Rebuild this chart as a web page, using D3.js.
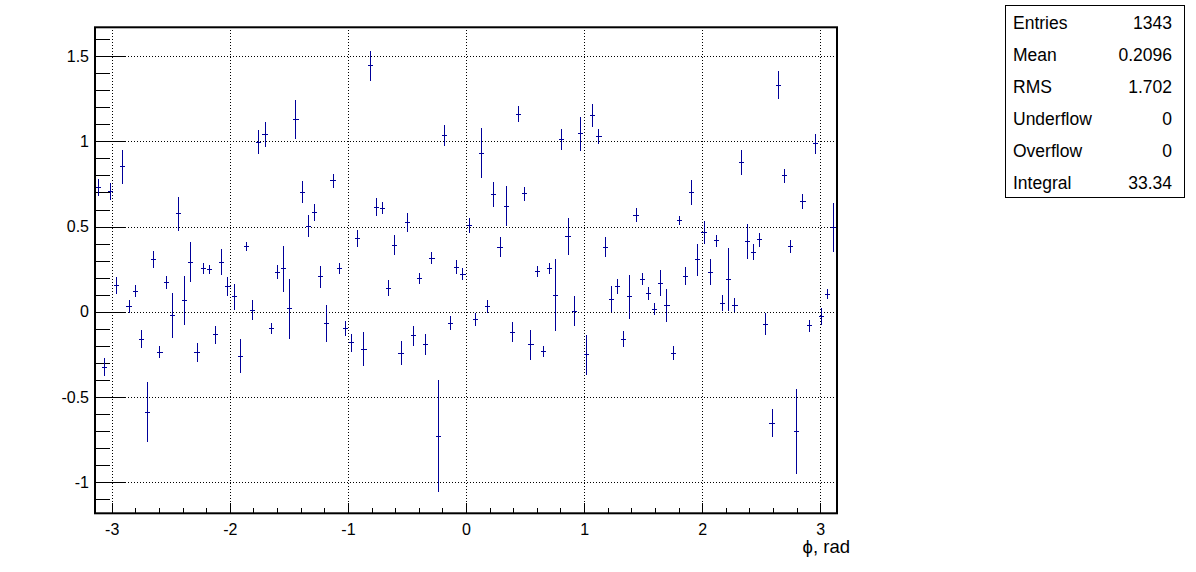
<!DOCTYPE html>
<html>
<head>
<meta charset="utf-8">
<script src="https://cdn.jsdelivr.net/npm/d3@7"></script>
<style>
  html, body { margin: 0; padding: 0; background: #ffffff; }
  svg { display: block; }
  text { font-family: "Liberation Sans", Arial, Helvetica, sans-serif; }
</style>
</head>
<body>
<div id="chart"></div>
<script>
// ---- Data ----
const xRange = [-Math.PI, Math.PI];   // histogram axis range
const nBins = 120;
const binValues = [
  0.731, -0.326, 0.706, 0.156, 0.850, 0.031, 0.121, -0.160, -0.588, 0.309,
  -0.237, 0.172, -0.023, 0.575, 0.065, 0.291, -0.240, 0.254, 0.250, -0.135,
  0.291, 0.150, 0.088, -0.260, 0.383, 0.010, 0.995, 1.042, -0.096, 0.233,
  0.252, 0.018, 1.126, 0.702, 0.502, 0.581, 0.205, -0.070, 0.768, 0.254,
  -0.098, -0.182, 0.428, -0.219, 1.443, 0.614, 0.608, 0.139, 0.391, -0.242,
  0.526, -0.141, 0.197, -0.194, 0.315, -0.729, 1.034, -0.066, 0.262, 0.221,
  0.506, -0.043, 0.930, 0.031, 0.686, 0.379, 0.620, -0.119, 1.159, 0.692,
  -0.194, 0.237, -0.231, 0.252, 0.098, 1.009, 0.440, 0.004, 1.044, -0.252,
  1.153, 1.030, 0.379, 0.074, 0.147, -0.160, 0.088, 0.567, 0.192, 0.108,
  0.016, 0.168, 0.035, -0.242, 0.536, 0.209, 0.700, 0.305, 0.465, 0.233,
  0.416, 0.051, 0.188, 0.039, 0.878, 0.410, 0.350, 0.422, -0.072, -0.653,
  1.329, 0.797, 0.383, -0.700, 0.647, -0.082, 0.985, -0.027, 0.104, 0.495
];
const binErrors = [
  0.051, 0.053, 0.049, 0.049, 0.099, 0.037, 0.035, 0.052, 0.174, 0.050,
  0.035, 0.037, 0.133, 0.099, 0.143, 0.119, 0.055, 0.033, 0.027, 0.052,
  0.078, 0.055, 0.078, 0.100, 0.028, 0.057, 0.071, 0.073, 0.032, 0.042,
  0.133, 0.177, 0.114, 0.065, 0.065, 0.050, 0.065, 0.110, 0.042, 0.034,
  0.046, 0.054, 0.050, 0.099, 0.088, 0.054, 0.034, 0.045, 0.058, 0.072,
  0.056, 0.057, 0.031, 0.062, 0.037, 0.330, 0.063, 0.039, 0.039, 0.036,
  0.045, 0.038, 0.147, 0.040, 0.074, 0.060, 0.119, 0.057, 0.047, 0.042,
  0.090, 0.034, 0.033, 0.033, 0.210, 0.061, 0.109, 0.090, 0.098, 0.116,
  0.068, 0.045, 0.059, 0.078, 0.043, 0.048, 0.129, 0.040, 0.033, 0.037,
  0.034, 0.075, 0.096, 0.043, 0.026, 0.052, 0.075, 0.093, 0.068, 0.075,
  0.034, 0.046, 0.185, 0.041, 0.073, 0.103, 0.049, 0.040, 0.064, 0.081,
  0.082, 0.040, 0.036, 0.249, 0.043, 0.035, 0.059, 0.049, 0.030, 0.144
];
const xTickValues = [-3, -2, -1, 0, 1, 2, 3];
const yTickValues = [-1, -0.5, 0, 0.5, 1, 1.5];
const xAxisTitle = "\u03d5, rad";
const statsLabels = ["Entries", "Mean", "RMS", "Underflow", "Overflow", "Integral"];
const statsValues = ["1343", "0.2096", "1.702", "0", "0", "33.34"];

// ---- Layout ----
const W = 1196, H = 572;
const frame = { left: 95, right: 837, top: 27.3, bottom: 513.3 };
const barColor = "#000099";

const svg = d3.select("#chart").append("svg")
  .attr("width", W).attr("height", H);

const x = d3.scaleLinear().domain(xRange).range([frame.left, frame.right]);
const y = d3.scaleLinear().domain([-1.182, 1.669]).range([frame.bottom, frame.top]);

// Grid (dotted)
const grid = svg.append("g").attr("stroke", "#000").attr("stroke-width", 1)
  .attr("stroke-dasharray", "1,2").attr("shape-rendering", "crispEdges");
grid.selectAll("line.gx").data(xTickValues).join("line")
  .attr("x1", d => Math.round(x(d)) + 0.5).attr("x2", d => Math.round(x(d)) + 0.5)
  .attr("y1", frame.top).attr("y2", frame.bottom);
grid.selectAll("line.gy").data(yTickValues).join("line")
  .attr("y1", d => Math.round(y(d)) + 0.5).attr("y2", d => Math.round(y(d)) + 0.5)
  .attr("x1", frame.left).attr("x2", frame.right);

// Axes
const fontSize = 16;
const yMinor = d3.range(-11, 17).map(d => d / 10).filter(d => yTickValues.indexOf(d) < 0);
const xMinor = d3.range(-15, 16).map(d => d / 5).filter(d => xTickValues.indexOf(d) < 0 && d >= xRange[0] && d <= xRange[1]);

const yAxis = svg.append("g").attr("transform", `translate(${frame.left},0)`)
  .call(d3.axisLeft(y).tickValues(yTickValues).tickSize(-31).tickPadding(6)
    .tickFormat(d => String(d)));
const yAxisMinor = svg.append("g").attr("transform", `translate(${frame.left},0)`)
  .call(d3.axisLeft(y).tickValues(yMinor).tickSize(-15).tickFormat(""));
const xAxis = svg.append("g").attr("transform", `translate(0,${frame.bottom})`)
  .call(d3.axisBottom(x).tickValues(xTickValues).tickSize(-10).tickPadding(10)
    .tickFormat(d => String(d)));
const xAxisMinor = svg.append("g").attr("transform", `translate(0,${frame.bottom})`)
  .call(d3.axisBottom(x).tickValues(xMinor).tickSize(-5).tickFormat(""));

[yAxis, yAxisMinor, xAxis, xAxisMinor].forEach(g => {
  g.select(".domain").remove();
  g.selectAll(".tick line").attr("stroke", "#000").attr("stroke-width", 1)
    .attr("shape-rendering", "crispEdges");
  g.selectAll("text").attr("font-size", fontSize).attr("fill", "#000")
    .attr("font-family", "Liberation Sans, Arial, sans-serif");
});

// Axis title
svg.append("text").attr("x", 850).attr("y", 553).attr("text-anchor", "end")
  .attr("font-size", 18.5).text(xAxisTitle);

// Error-bar crosses
const binW = (xRange[1] - xRange[0]) / nBins;
const bins = binValues.map((v, i) => ({
  lo: xRange[0] + i * binW, hi: xRange[0] + (i + 1) * binW,
  c: xRange[0] + (i + 0.5) * binW, v: v, e: binErrors[i]
}));
const marks = svg.append("g").attr("stroke", barColor).attr("stroke-width", 1)
  .attr("shape-rendering", "crispEdges");
marks.selectAll("line.v").data(bins).join("line").attr("class", "v")
  .attr("x1", d => x(d.c)).attr("x2", d => x(d.c))
  .attr("y1", d => y(d.v - d.e)).attr("y2", d => y(d.v + d.e));
marks.selectAll("line.h").data(bins).join("line").attr("class", "h")
  .attr("x1", d => x(d.lo) + 0.5).attr("x2", d => x(d.hi) - 0.5)
  .attr("y1", d => y(d.v)).attr("y2", d => y(d.v));

// Frame
svg.append("rect").attr("x", frame.left).attr("y", frame.top)
  .attr("width", frame.right - frame.left).attr("height", frame.bottom - frame.top)
  .attr("fill", "none").attr("stroke", "#000").attr("stroke-width", 2);

// Stats box
const box = { x: 1005.5, y: 5.5, w: 179, h: 192 };
svg.append("rect").attr("x", box.x).attr("y", box.y).attr("width", box.w).attr("height", box.h)
  .attr("fill", "#fff").attr("stroke", "#000").attr("stroke-width", 1);
const rowY = d3.scaleLinear().domain([0, statsLabels.length - 1]).range([29, 189]);
svg.append("g").selectAll("text").data(statsLabels).join("text")
  .attr("x", 1013).attr("y", (d, i) => rowY(i)).attr("font-size", 17.5).text(d => d);
svg.append("g").selectAll("text").data(statsValues).join("text")
  .attr("x", 1172).attr("y", (d, i) => rowY(i)).attr("text-anchor", "end")
  .attr("font-size", 17.5).text(d => d);
</script>
</body>
</html>
